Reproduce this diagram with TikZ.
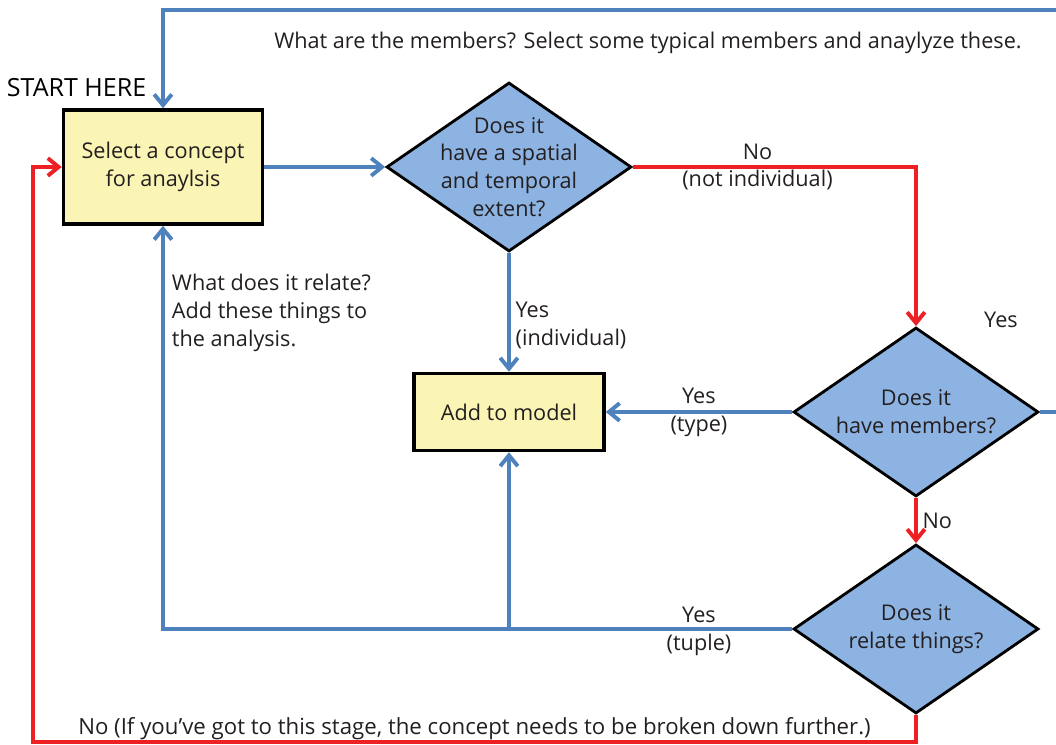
\documentclass[tikz,border=0pt]{standalone}
\usepackage{fontspec}
\setmainfont{Open Sans}
\usepackage{tikz}
\usetikzlibrary{shapes.geometric, positioning, arrows.meta, calc}
\definecolor{lineblue}{RGB}{79,129,189}
\definecolor{linered}{RGB}{237,32,36}
\definecolor{diamondblue}{RGB}{141,179,226}
\definecolor{boxyellow}{RGB}{250,245,180}
\definecolor{textgrey}{RGB}{35,31,32}

\begin{document}
\begin{tikzpicture}[on grid, every node/.style={text=textgrey, font=\fontsize{15.4}{19.8}\selectfont}]
		\tikzstyle{stepbox}=[draw=black, line width=2.5pt, fill=boxyellow, align=center]
		\tikzstyle{question}=[diamond, draw=black, line width=2pt, fill=diamondblue, minimum width=6.125cm, minimum height=4.225cm, inner sep=0pt]
		\tikzstyle{yesline}=[draw=lineblue, line width=2.8pt, -{Straight Barb[length=2.7mm, width=4.4mm]}]
		\tikzstyle{noline}=[draw=linered, line width=2.8pt, -{Straight Barb[length=2.7mm, width=4.4mm]}]
		\tikzstyle{edgelabel}=[align=center, fill=none]
		
		\useasboundingbox (0,0) rectangle (26.4,18.625);
		
		%% boxes and questions
		\node [stepbox, minimum width=4.975cm, minimum height=2.85cm] (sel) at (4.075,14.45) {Select a concept\\for anaylsis};
		\node [question, right=8.65cm of sel, label={[align=center]center:Does it\\have a spatial\\and temporal\\extent?}] (spat) {};
		\node [stepbox, below=6.125cm of spat, minimum width=4.75cm, minimum height=1.925cm] (add) {Add to model};
		\node [question, right=10.175cm of add, label={[align=center]center:Does it\\have members?}] (mem) {};
		\node [question, below=5.425cm of mem, label={[align=center]center:Does it\\relate things?}] (rel) {};
		
		\node [anchor=base west, text=black, font=\fontsize{17.8}{21}\selectfont] (start) at (0.05,16.2) {START HERE};
		
		\coordinate (outer) at (27.5,18.375);
		\coordinate (loopcorner) at (0.825,0.075);
		\coordinate (tee) at (rel.west -| add);
		
		%% blue (yes) connectors
		\draw[yesline] (sel.east) -- (spat.west);
		\draw[yesline] (spat.south) -- node[right, align=left, yshift=-0.33cm] {Yes\\(individual)} (add.north);
		\draw[yesline] (mem.west) -- node[edgelabel] {Yes\\(type)} (add.east);
		\draw[yesline] (rel.west) -| node[pos=0.074, edgelabel, yshift=-0.05cm] {Yes\\(tuple)} (sel.south);
		\draw[yesline] (tee) -- (add.south);
		\draw[yesline] (mem.east) -| (outer) -| (sel.north);
		
		%% red (no) connectors
		\draw[noline] (spat.east) -| node[pos=0.22, edgelabel] {No\\(not individual)} (mem.north);
		\draw[noline] (mem.south) -- node[right] {No} (rel.north);
		\draw[noline] (rel.south) |- node[pos=0.75, above, yshift=-0.12cm, font=\fontsize{15.8}{19.8}\selectfont] {No (If you’ve got to this stage, the concept needs to be broken down further.)} (loopcorner) |- (sel.west);
		
		%% loose labels
		\node [align=center] (memyes) at (25.025,10.625) {Yes};
		\node [anchor=west, align=left] (relnote) at (4.175,10.8) {What does it relate?\\Add these things to\\the analysis.};
		\node (memnote) at (16.2,17.55) {What are the members? Select some typical members and anaylyze these.};
		
		\end{tikzpicture}
\end{document}
